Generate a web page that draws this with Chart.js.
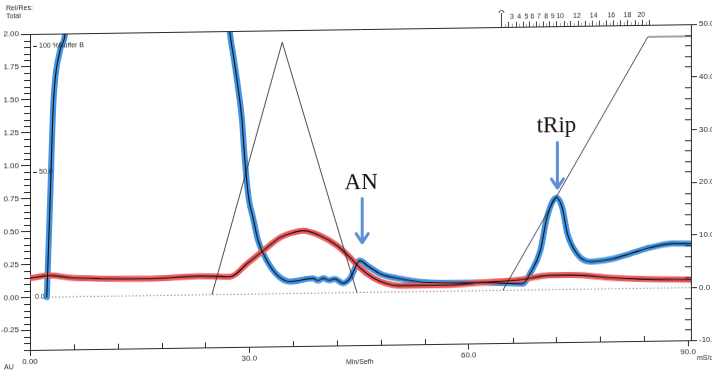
<!DOCTYPE html>
<html>
<head>
<meta charset="utf-8">
<script src="https://cdn.jsdelivr.net/npm/chart.js@4.4.1/dist/chart.umd.min.js"></script>
<style>
html,body{margin:0;padding:0;background:#fff;overflow:hidden;}
#wrap{width:712px;height:380px;transform:skewY(-0.85deg);transform-origin:30px 0;}
canvas{display:block;}
</style>
</head>
<body>
<div id="wrap"><canvas id="c" width="712" height="380"></canvas></div>
<script>
// ---- data ----
// UV trace highlighted in blue: volume (ml) and absorbance (AU); 2.60 = off-scale (above 2.00)
const blueVolume = [2.3, 2.75, 3.2, 4.1, 4.8, 5.6, 26.5, 27.36, 27.77, 28.45, 29.0, 29.27, 29.68, 29.96, 30.5, 31.2, 32.4, 33.9, 35.6, 38.7, 39.4, 40.1, 40.9, 41.7, 42.8, 43.8, 45.1, 46.2, 47.9, 50.6, 54.7, 61.6, 67.4, 68.4, 69.8, 70.7, 72.0, 72.8, 73.5, 74.8, 76.6, 79.8, 82.1, 84.8, 88.0, 90.4];
const blueAU     = [0.00, 0.73, 1.47, 1.87, 2.00, 2.60, 2.60, 1.98, 1.83, 1.57, 1.32, 1.105, 0.84, 0.71, 0.58, 0.405, 0.252, 0.137, 0.090, 0.112, 0.096, 0.112, 0.096, 0.106, 0.072, 0.110, 0.241, 0.200, 0.140, 0.100, 0.067, 0.061, 0.049, 0.124, 0.297, 0.547, 0.698, 0.621, 0.423, 0.270, 0.208, 0.228, 0.264, 0.308, 0.336, 0.333];
// second trace highlighted in red
const redVolume = [0, 2.7, 5.5, 9.6, 16.4, 23.3, 27.4, 29.7, 31.9, 34.2, 36.0, 37.3, 39.7, 42.0, 43.8, 45.1, 46.9, 48.8, 50.6, 57.5, 61.6, 67.0, 71.1, 73.9, 76.6, 79.3, 83.4, 90.4];
const redAU     = [0.146, 0.163, 0.145, 0.134, 0.128, 0.142, 0.134, 0.232, 0.328, 0.425, 0.462, 0.476, 0.436, 0.358, 0.265, 0.188, 0.111, 0.064, 0.047, 0.046, 0.061, 0.079, 0.108, 0.108, 0.100, 0.084, 0.070, 0.060];
// gradient (% Buffer B)
const gradientVolume   = [2.0, 24.9, 34.5, 44.7, 64.7, 84.5, 90.4];
const gradientPercentB = [0, 0, 100, 0, 0, 100, 100];

// ---- axes / ticks ----
const xTickValues = [0, 30, 60, 90];
const xTickLabels = ['0.00', '30.0', '60.0', '90.0'];
const xMinorTickValues = [6, 12, 18, 24, 36, 42, 48, 54, 66, 72, 78, 84];
const leftTickValues = [-0.25, 0, 0.25, 0.5, 0.75, 1.0, 1.25, 1.5, 1.75, 2.0];
const leftTickLabels = ['-0.25', '0.00', '0.25', '0.50', '0.75', '1.00', '1.25', '1.50', '1.75', '2.00'];
const rightTickValues = [-10, 0, 10, 20, 30, 40, 50];
const rightTickLabels = ['-10.0', '0.0', '10.00', '20.00', '30.00', '40.00', '50.00'];
const gradientTickValues = [0, 50, 100];
const gradientTickLabels = ['0.0', '50.0', '100 %Buffer B'];
// fraction collector marks along the top
const fractionVolumes = [64.4, 65.4, 66.4, 67.4, 68.3, 69.2, 70.1, 71.0, 72.0, 73.0, 73.9, 74.9, 75.9, 76.9, 77.8, 78.8, 79.8, 80.7, 81.7, 82.7, 83.7, 84.7];
const fractionLabels = ['3', '4', '5', '6', '7', '8', '9', '10', '12', '14', '16', '18', '20'];
const fractionLabelVolumes = [65.9, 66.9, 67.9, 68.7, 69.6, 70.6, 71.5, 72.5, 74.8, 77.1, 79.5, 81.7, 83.6];
// hand-written annotations
const noteTexts = ['AN', 'tRip'];
const noteVolumes = [45.3, 72.0];
const noteTextAU = [0.788, 1.192];
const noteArrowFromAU = [0.712, 1.118];
const noteArrowToAU = [0.378, 0.771];

const axisFont = '"Liberation Sans Narrow", "Liberation Sans", Arial, sans-serif';
const ink = '#2a2a2a';
const xy = (xs, ys) => xs.map((v, i) => ({x: v, y: ys[i]}));

const decor = {
  id: 'decor',
  beforeDatasetsDraw(chart) {
    const {ctx, chartArea: a, scales: {x, y}} = chart;
    ctx.save();
    ctx.strokeStyle = '#8c8c8c';
    ctx.lineWidth = 1;
    ctx.setLineDash([1.5, 2]);
    const y0 = y.getPixelForValue(0);
    ctx.beginPath();
    ctx.moveTo(x.getPixelForValue(gradientVolume[0]), y0);
    ctx.lineTo(a.right, y0);
    ctx.stroke();
    ctx.restore();
  },
  afterDraw(chart) {
    const {ctx, chartArea: a, scales: {x, y, yR, yB}} = chart;
    ctx.save();
    ctx.strokeStyle = ink;
    ctx.fillStyle = ink;
    ctx.lineWidth = 1;
    // minor ticks left
    ctx.beginPath();
    for (let k = -8; k <= 40; k++) {
      if (k % 5 === 0) continue;
      const py = Math.round(y.getPixelForValue(k * 0.05)) + 0.5;
      ctx.moveTo(a.left - 6, py); ctx.lineTo(a.left, py);
    }
    // minor ticks right (inward)
    for (let v = -10; v <= 50; v += 2) {
      if (v % 10 === 0) continue;
      const py = Math.round(yR.getPixelForValue(v)) + 0.5;
      ctx.moveTo(a.right - 6, py); ctx.lineTo(a.right, py);
    }
    // minor ticks bottom (upward)
    xMinorTickValues.forEach(v => {
      const px = Math.round(x.getPixelForValue(v)) + 0.5;
      ctx.moveTo(px, a.bottom); ctx.lineTo(px, a.bottom - 5);
    });
    ctx.stroke();

    // top border with fraction ruler
    ctx.beginPath();
    ctx.moveTo(a.left, a.top + 0.5); ctx.lineTo(a.right, a.top + 0.5);
    ctx.stroke();
    ctx.beginPath();
    ctx.strokeStyle = '#444';
    fractionVolumes.forEach((v, i) => {
      const px = Math.round(x.getPixelForValue(v)) + 0.5;
      ctx.moveTo(px, a.top); ctx.lineTo(px, a.top - (i === 0 ? 14 : 5));
    });
    ctx.stroke();
    ctx.strokeStyle = '#aaa';
    ctx.beginPath();
    for (let i = 0; i < fractionVolumes.length - 1; i++) {
      const m = Math.round(x.getPixelForValue((fractionVolumes[i] + fractionVolumes[i + 1]) / 2)) + 0.5;
      ctx.moveTo(m, a.top); ctx.lineTo(m, a.top - 3);
    }
    ctx.stroke();
    // injection marker arc
    const p0 = Math.round(x.getPixelForValue(fractionVolumes[0])) + 0.5;
    ctx.strokeStyle = '#444';
    ctx.beginPath();
    ctx.arc(p0, a.top - 14, 2.5, Math.PI, 0);
    ctx.stroke();
    ctx.font = '7px ' + axisFont;
    ctx.textAlign = 'center';
    ctx.textBaseline = 'middle';
    fractionLabels.forEach((t, i) => ctx.fillText(t, x.getPixelForValue(fractionLabelVolumes[i]), a.top - 10));

    // gradient axis labels
    ctx.strokeStyle = ink;
    ctx.textAlign = 'left';
    ctx.beginPath();
    gradientTickValues.forEach((v, i) => {
      const py = Math.round(yB.getPixelForValue(v)) + 0.5;
      if (v !== 0) { ctx.moveTo(a.left + 3, py); ctx.lineTo(a.left + 7, py); }
      ctx.fillText(gradientTickLabels[i], a.left + (v === 0 ? 5 : 9), py);
    });
    ctx.stroke();

    // axis titles
    ctx.font = '7px ' + axisFont;
    ctx.fillText('Rel/Res:', 6, 8);
    ctx.fillText('Total', 6, 16);
    ctx.fillText('AU', 4, 367);
    ctx.fillText('Min/Sefh', 346, 367);
    ctx.fillText('mS/cm', 697, 368);

    // annotations
    ctx.font = '23px "Liberation Serif", "DejaVu Serif", serif';
    ctx.textAlign = 'center';
    ctx.textBaseline = 'alphabetic';
    ctx.fillStyle = '#111';
    noteTexts.forEach((t, i) => {
      const px = x.getPixelForValue(noteVolumes[i]);
      ctx.fillText(t, px, y.getPixelForValue(noteTextAU[i]));
      const ax = px + 1;
      const yFrom = y.getPixelForValue(noteArrowFromAU[i]);
      const yTo = y.getPixelForValue(noteArrowToAU[i]);
      ctx.strokeStyle = '#5b8fd6';
      ctx.lineWidth = 3;
      ctx.lineCap = 'round';
      ctx.lineJoin = 'round';
      ctx.beginPath();
      ctx.moveTo(ax, yFrom); ctx.lineTo(ax, yTo);
      ctx.moveTo(ax - 6, yTo - 9); ctx.lineTo(ax, yTo); ctx.lineTo(ax + 6, yTo - 9);
      ctx.stroke();
    });
    ctx.restore();
  }
};

new Chart(document.getElementById('c'), {
  type: 'line',
  data: {
    datasets: [
      {label: 'UV trace (ink)', data: xy(blueVolume, blueAU), yAxisID: 'y', borderColor: '#111', borderWidth: 1.1, order: 0},
      {label: 'Second trace (ink)', data: xy(redVolume, redAU), yAxisID: 'y', borderColor: '#111', borderWidth: 1.1, order: 0},
      {label: '% Buffer B', data: xy(gradientVolume, gradientPercentB), yAxisID: 'yB', borderColor: '#333', borderWidth: 0.9,
        cubicInterpolationMode: 'default', tension: 0, order: 0,
        segment: {borderColor: c => (c.p0.parsed.y === 0 && c.p1.parsed.y === 0) ? 'rgba(0,0,0,0)' : '#333'}},
      {label: 'UV trace (blue marker)', data: xy(blueVolume, blueAU), yAxisID: 'y', borderColor: '#4294e2', borderWidth: 6, order: 2},
      {label: 'Second trace (red marker)', data: xy(redVolume, redAU), yAxisID: 'y', borderColor: '#ec5c5f', borderWidth: 6, order: 1}
    ]
  },
  options: {
    responsive: false,
    animation: false,
    devicePixelRatio: 1,
    layout: {padding: {top: 34, left: 0, right: 0, bottom: 0}},
    elements: {point: {radius: 0}, line: {cubicInterpolationMode: 'monotone', borderCapStyle: 'round', borderJoinStyle: 'round'}},
    plugins: {legend: {display: false}, tooltip: {enabled: false}},
    scales: {
      x: {
        type: 'linear', position: 'bottom', min: 0, max: 90.4,
        afterBuildTicks: s => { s.ticks = xTickValues.map(v => ({value: v})); },
        afterFit: s => { s.height = 30; },
        ticks: {callback: (v, i) => xTickLabels[i], font: {family: axisFont, size: 8}, color: ink, padding: 1, maxRotation: 0},
        grid: {drawOnChartArea: false, drawTicks: true, tickLength: 6, color: ink},
        border: {display: true, color: ink, width: 1}
      },
      y: {
        type: 'linear', position: 'left', min: -0.4, max: 2.0,
        afterBuildTicks: s => { s.ticks = leftTickValues.map(v => ({value: v})); },
        afterFit: s => { s.width = 30; },
        ticks: {callback: (v, i) => leftTickLabels[i], font: {family: axisFont, size: 8}, color: ink, padding: 2},
        grid: {drawOnChartArea: false, drawTicks: true, tickLength: 9, color: ink},
        border: {display: true, color: ink, width: 1}
      },
      yR: {
        type: 'linear', position: 'right', min: -10, max: 50,
        afterBuildTicks: s => { s.ticks = rightTickValues.map(v => ({value: v})); },
        afterFit: s => { s.width = 21; },
        ticks: {callback: (v, i) => rightTickLabels[i], font: {family: axisFont, size: 8}, color: ink, padding: 2},
        grid: {drawOnChartArea: false, drawTicks: true, tickLength: 6, color: ink},
        border: {display: true, color: ink, width: 1}
      },
      yB: {type: 'linear', display: false, min: -21.1, max: 104.8}
    }
  },
  plugins: [decor]
});
</script>
</body>
</html>
